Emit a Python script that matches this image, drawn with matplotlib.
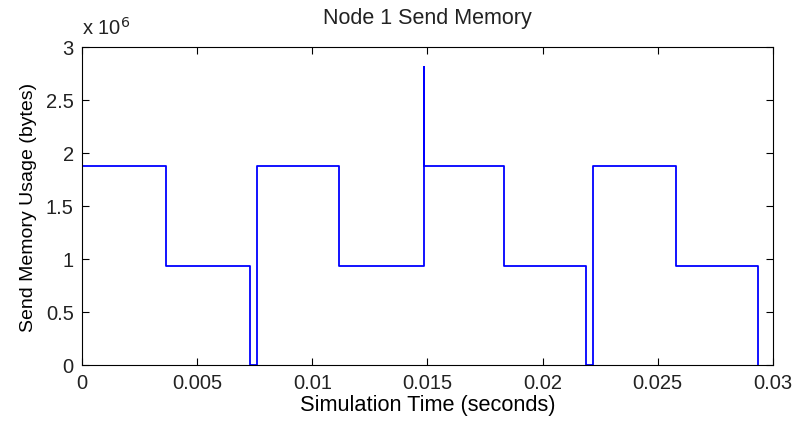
import matplotlib
matplotlib.use('Agg')
import matplotlib.pyplot as plt
from matplotlib.ticker import FuncFormatter

# step points of the send buffer (time in seconds, bytes held)
times = [0.0, 0.0, 0.00365, 0.00731, 0.00758, 0.01117, 0.01483, 0.01483,
         0.01833, 0.02190, 0.02220, 0.02579, 0.02936]
usage = [0.0, 1.875e6, 0.9375e6, 0.0, 1.875e6, 0.9375e6, 2.81e6, 1.875e6,
         0.9375e6, 0.0, 1.875e6, 0.9375e6, 0.0]

xticks = [0, 0.005, 0.01, 0.015, 0.02, 0.025, 0.03]
yticks = [0, 0.5e6, 1e6, 1.5e6, 2e6, 2.5e6, 3e6]

plt.rcParams['font.family'] = ['Liberation Sans', 'DejaVu Sans']
plt.rcParams['font.size'] = 14.5
plt.rcParams['text.color'] = '#222222'

fig = plt.figure(figsize=(7.95, 4.27), dpi=100)
ax = fig.add_axes([0.1031, 0.1429, 0.8692, 0.7447])

ax.plot(times, usage, color=(0, 0, 1), linewidth=1.3, drawstyle='steps-post')

ax.set_xlim(0, 0.03)
ax.set_ylim(0, 3e6)
ax.set_xticks(xticks)
ax.set_yticks(yticks)
ax.xaxis.set_major_formatter(FuncFormatter(lambda v, p: '%g' % v))
ax.yaxis.set_major_formatter(FuncFormatter(lambda v, p: '%g' % (v / 1e6)))
ax.tick_params(direction='in', length=5, width=0.8, top=True, right=True,
               pad=6, colors='black', labelcolor='#222222')
for s in ax.spines.values():
    s.set_linewidth(0.8)

ax.text(0.0, 1.03, r'x 10$^{6}$', transform=ax.transAxes, ha='left', va='bottom')
ax.set_title('Node 1 Send Memory', fontsize=15.5, pad=17)
ax.set_xlabel('Simulation Time (seconds)', fontsize=15.7, labelpad=1)
ax.set_ylabel('Send Memory Usage (bytes)', fontsize=14, labelpad=6)

plt.savefig('out.png', dpi=100)
